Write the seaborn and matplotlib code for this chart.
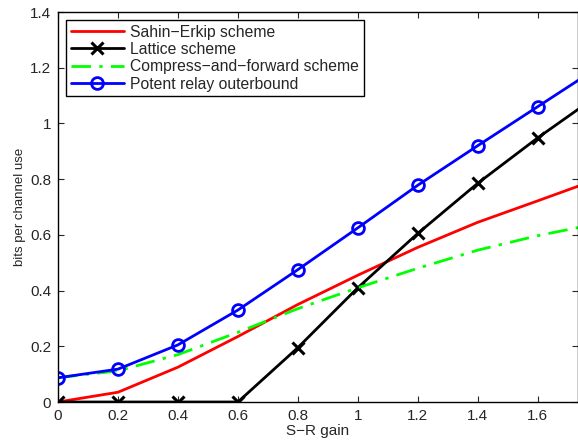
import numpy as np
import pandas as pd
import matplotlib
matplotlib.use("Agg")
import matplotlib.pyplot as plt
import seaborn as sns

# S-R gain grid
gain = [0.0, 0.2, 0.4, 0.6, 0.8, 1.0, 1.2, 1.4, 1.6, 1.8]

# bits per channel use
sahin_erkip = [0.0, 0.035, 0.125, 0.235, 0.35, 0.455, 0.555, 0.645, 0.722, 0.80]
lattice = [0.0, 0.0, 0.0, 0.0, 0.195, 0.41, 0.605, 0.785, 0.948, 1.10]
compress_forward = [0.087, 0.112, 0.17, 0.25, 0.335, 0.41, 0.48, 0.545, 0.597, 0.64]
potent_relay = [0.087, 0.118, 0.205, 0.33, 0.475, 0.625, 0.778, 0.92, 1.06, 1.20]

labels = ["Sahin\u2212Erkip scheme", "Lattice scheme",
          "Compress\u2212and\u2212forward scheme", "Potent relay outerbound"]

sns.set_style("ticks")
plt.rcParams["font.family"] = ["Liberation Sans", "DejaVu Sans"]

fig = plt.figure(figsize=(5.78, 4.45), dpi=100)
ax = fig.add_axes([58 / 578, 1 - 402 / 445, 519.5 / 578, 390 / 445])

sns.lineplot(x=gain, y=sahin_erkip, ax=ax, color="red", lw=2, label=labels[0])
sns.lineplot(x=gain, y=lattice, ax=ax, color="black", lw=2, marker="x",
             markersize=8, markeredgewidth=2.2, markeredgecolor="black",
             label=labels[1])
sns.lineplot(x=gain, y=compress_forward, ax=ax, color="#00ff00", lw=2,
             label=labels[2])
ax.lines[-1].set_dashes([7, 3, 1.2, 3])
sns.lineplot(x=gain, y=potent_relay, ax=ax, color="blue", lw=2, marker="o",
             markersize=8.5, markerfacecolor="none", markeredgecolor="blue",
             markeredgewidth=2, label=labels[3])

ax.set_xlim(0, 1.733)
ax.set_ylim(0, 1.4)
ax.set_xticks(np.arange(0, 1.61, 0.2))
ax.set_xticklabels(["0", "0.2", "0.4", "0.6", "0.8", "1", "1.2", "1.4", "1.6"])
ax.set_yticks(np.arange(0, 1.41, 0.2))
ax.set_yticklabels(["0", "0.2", "0.4", "0.6", "0.8", "1", "1.2", "1.4"])
ax.tick_params(direction="in", top=True, right=True, labelsize=11,
               length=4, width=0.8, pad=5)
for s in ax.spines.values():
    s.set_linewidth(1.0)
    s.set_color("black")

ax.set_xlabel("S\u2212R gain", fontsize=11, labelpad=1)
ax.set_ylabel("bits per channel use", fontsize=9.5, labelpad=3)

leg = ax.legend(loc="upper left", fontsize=11.3, handlelength=3.4,
                borderaxespad=0.5, labelspacing=0.15, handletextpad=0.4,
                fancybox=False, framealpha=1, borderpad=0.3)
leg.get_frame().set_edgecolor("black")
leg.get_frame().set_linewidth(1.0)

fig.savefig("out.png", dpi=100)
